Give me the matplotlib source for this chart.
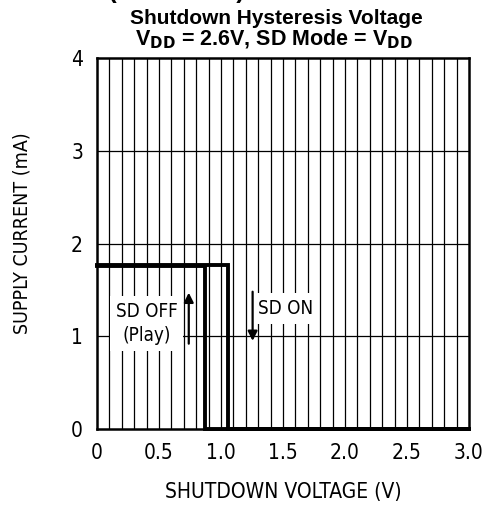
import matplotlib
matplotlib.use("Agg")
import matplotlib.pyplot as plt
from matplotlib import font_manager as fm
import numpy as np

# data
x_ticks = [0, 0.5, 1.0, 1.5, 2.0, 2.5, 3.0]
x_tick_labels = ["0", "0.5", "1.0", "1.5", "2.0", "2.5", "3.0"]
y_ticks = [0, 1, 2, 3, 4]
y_tick_labels = ["0", "1", "2", "3", "4"]
v_rising = [0.0, 1.06, 1.06, 3.0]
i_rising = [1.77, 1.77, 0.0, 0.0]
v_falling = [0.0, 0.87, 0.87, 3.0]
i_falling = [1.76, 1.76, 0.0, 0.0]

names = {f.name for f in fm.fontManager.ttflist}
narrow_fam = ["DejaVu Sans"]
if "DejaVu Sans Condensed" in names:
    narrow_fam = ["DejaVu Sans Condensed", "DejaVu Sans"]
narrow = dict(family=narrow_fam, stretch="condensed")
bold = ["Liberation Sans", "DejaVu Sans"]

fig = plt.figure(figsize=(4.88, 5.12), dpi=100)
ax = fig.add_axes([97/488, 1-429/512, (469-97)/488, (429-58)/512])
ax.set_xlim(0, 3.0)
ax.set_ylim(0, 4)

# grid
for xv in np.arange(1, 30):
    ax.axvline(xv/10, color="black", lw=0.9, zorder=1)
for yv in [1, 2, 3]:
    ax.axhline(yv, color="black", lw=0.9, zorder=1)

for s in ax.spines.values():
    s.set_linewidth(1.8)

ax.plot(v_rising, i_rising, color="black", lw=2.8, zorder=3, clip_on=False, solid_joinstyle="miter")
ax.plot(v_falling, i_falling, color="black", lw=2.8, zorder=3, clip_on=False, solid_joinstyle="miter")

ax.set_xticks(x_ticks)
ax.set_xticklabels(x_tick_labels, fontsize=15, **narrow)
ax.set_yticks(y_ticks)
ax.set_yticklabels(y_tick_labels, fontsize=15, **narrow)
ax.tick_params(length=0, pad=10)

ax.set_xlabel("SHUTDOWN VOLTAGE (V)", fontsize=15, labelpad=14, **narrow)
ax.set_ylabel("SUPPLY CURRENT (mA)", fontsize=14, **narrow)
ax.yaxis.set_label_coords(-0.175, 0.527)

ax.text(0.40, 1.14, "SD OFF\n(Play)", ha="center", va="center",
        fontsize=13.5, linespacing=1.35, zorder=2,
        bbox=dict(facecolor="white", edgecolor="none", pad=4), **narrow)
ax.text(1.52, 1.30, "SD ON", ha="center", va="center",
        fontsize=13.5, zorder=2,
        bbox=dict(facecolor="white", edgecolor="none", pad=4), **narrow)

ax.annotate("", xy=(0.74, 1.50), xytext=(0.74, 0.89),
            arrowprops=dict(arrowstyle="-|>", color="black", lw=1.6, mutation_scale=14), zorder=4)
ax.annotate("", xy=(1.255, 0.92), xytext=(1.255, 1.51),
            arrowprops=dict(arrowstyle="-|>", color="black", lw=1.6, mutation_scale=14), zorder=4)

fig.text(276/488, 1-18/512, "Shutdown Hysteresis Voltage", ha="center", va="center",
         family=bold, fontweight="bold", fontsize=15)
fig.text(274/488, 1-39/512, r"V$_\mathbf{DD}$ = 2.6V, SD Mode = V$_\mathbf{DD}$", ha="center", va="center",
         family=bold, fontweight="bold", fontsize=15.5)
fig.text(245/488, 1+2/512, "Typical Performance Characteristics (continued)", ha="right", va="baseline",
         family=bold, fontweight="bold", fontsize=18)

fig.savefig("out.png", dpi=100)
